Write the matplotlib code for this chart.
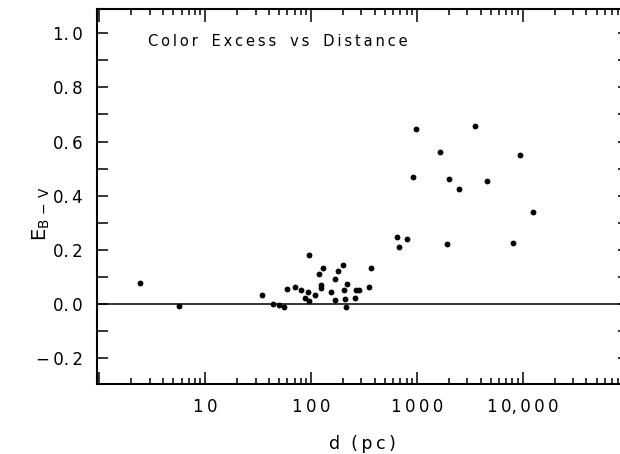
import numpy as np
import matplotlib
matplotlib.use("Agg")
import matplotlib.pyplot as plt
from matplotlib.ticker import FixedLocator, LogLocator, NullFormatter

plt.rcParams['font.family'] = ['DejaVu Sans']
plt.rcParams['mathtext.fontset'] = 'dejavusans'

# ---- data (distance in pc, colour excess E(B-V)) ----
distance_pc = [2.43, 5.65, 34.5, 44.2, 50.4, 55.7, 59.0, 71.2, 80.1, 87.4,
               93.9, 95.3, 96.6, 108.6, 120, 129, 125, 125, 156, 168,
               180, 199.5, 170, 205.6, 218, 211, 214, 262, 267, 287,
               351, 367, 646, 684, 813, 982, 3520, 1656, 9440, 914,
               2000, 4570, 2520, 12400, 1914, 8050]
color_excess = [0.078, -0.006, 0.032, 0.001, -0.005, -0.010, 0.054, 0.062, 0.052, 0.022,
                0.043, 0.012, 0.181, 0.032, 0.110, 0.132, 0.069, 0.059, 0.044, 0.092,
                0.121, 0.144, 0.015, 0.052, 0.073, 0.020, -0.010, 0.022, 0.052, 0.051,
                0.062, 0.132, 0.248, 0.211, 0.239, 0.648, 0.656, 0.561, 0.551, 0.469,
                0.460, 0.454, 0.425, 0.341, 0.220, 0.224]

x_major = [1, 10, 100, 1000, 10000, 100000]
x_labels = ["", "1\u20090", "1\u20090\u20090", "1\u20090\u20090\u20090", "1\u20090,\u20090\u20090\u20090", ""]
y_major = [-0.3, -0.2, -0.1, 0.0, 0.1, 0.2, 0.3, 0.4, 0.5, 0.6, 0.7, 0.8, 0.9, 1.0]
y_labels = ["", "\u2212\u20090.\u20092", "", "0.\u20090", "", "0.\u20092", "", "0.\u20094", "",
            "0.\u20096", "", "0.\u20098", "", "1.\u20090"]

title_text = "C\u2009o\u2009l\u2009o\u2009r   E\u2009x\u2009c\u2009e\u2009s\u2009s   v\u2009s   D\u2009i\u2009s\u2009t\u2009a\u2009n\u2009c\u2009e"

W, H = 620, 454
fig = plt.figure(figsize=(W / 100, H / 100), dpi=100)
ax = fig.add_axes([97 / W, (H - 384) / H, (628.6 - 97) / W, (384 - 9.3) / H])

ax.set_xscale('log')
ax.set_xlim(10 ** -0.02, 10 ** 5)
ax.set_ylim(-0.295, 1.088)

ax.axhline(0.0, color='black', lw=1.1, zorder=1)
ax.plot(distance_pc, color_excess, 'o', color='black', ms=4.2, mew=0, zorder=3)

for s in ax.spines.values():
    s.set_linewidth(1.5)

ax.xaxis.set_major_locator(FixedLocator(x_major))
ax.set_xticklabels(x_labels)
ax.xaxis.set_minor_locator(LogLocator(base=10, subs=np.arange(2, 10)))
ax.xaxis.set_minor_formatter(NullFormatter())
ax.yaxis.set_major_locator(FixedLocator(y_major))
ax.set_yticklabels(y_labels)

ax.tick_params(axis='x', which='major', direction='in', length=9, width=1.1,
               top=True, bottom=True, labelsize=12, pad=10)
ax.tick_params(axis='x', which='minor', direction='in', length=4.5, width=1.1,
               top=True, bottom=True)
ax.tick_params(axis='y', which='major', direction='in', length=8, width=1.1,
               left=True, right=True, labelsize=12, pad=10)

fig.text(148 / W, (H - 42) / H, title_text, fontsize=10.5, ha='left', va='center')

fig.text(362 / W, (H - 444) / H, "d  (\u2009p\u2009c\u2009)", fontsize=12.5, ha='center', va='center')
fig.text(41 / W, (H - 214) / H, r"$\mathrm{E}_{\mathrm{B\,-\,V}}$", fontsize=14,
         rotation=90, ha='center', va='center')

fig.savefig("out.png", dpi=100)
